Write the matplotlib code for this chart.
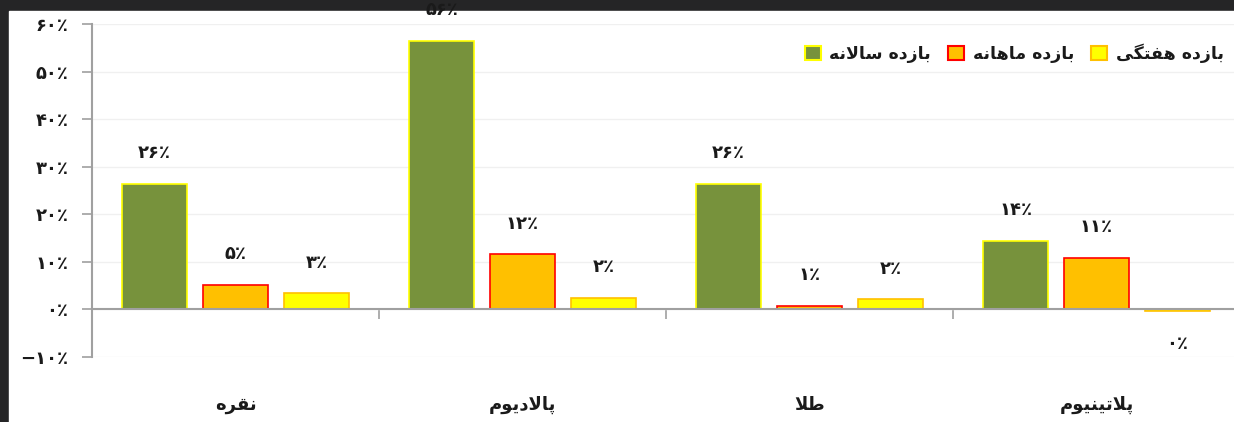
import numpy as np
import matplotlib
matplotlib.use('Agg')
import matplotlib.pyplot as plt
from matplotlib.patches import Patch

plt.rcParams['font.family'] = ['DejaVu Sans']

# data
categories = ['نقره', 'پالادیوم', 'طلا', 'پلاتینیوم']
series_names = ['بازده سالانه', 'بازده ماهانه', 'بازده هفتگی']
yearly = [26.4, 56.5, 26.4, 14.4]
monthly = [5.2, 11.6, 0.8, 10.8]
weekly = [3.4, 2.5, 2.1, -0.3]
yearly_lbl = [26, 56, 26, 14]
monthly_lbl = [5, 12, 1, 11]
weekly_lbl = [3, 2, 2, 0]
y_ticks = [-10, 0, 10, 20, 30, 40, 50, 60]

fills = ['#77923C', '#FFC000', '#FFFF00']
edges = ['#FFFF00', '#FF0000', '#FFC000']

# --- minimal Persian shaping (matplotlib has no bidi / joining) ---
FORMS = {
    'ا': ('\uFE8D', '\uFE8E', None, None),
    'ب': ('\uFE8F', '\uFE90', '\uFE91', '\uFE92'),
    'پ': ('\uFB56', '\uFB57', '\uFB58', '\uFB59'),
    'ت': ('\uFE95', '\uFE96', '\uFE97', '\uFE98'),
    'د': ('\uFEA9', '\uFEAA', None, None),
    'ر': ('\uFEAD', '\uFEAE', None, None),
    'ز': ('\uFEAF', '\uFEB0', None, None),
    'س': ('\uFEB1', '\uFEB2', '\uFEB3', '\uFEB4'),
    'ط': ('\uFEC1', '\uFEC2', '\uFEC3', '\uFEC4'),
    'ف': ('\uFED1', '\uFED2', '\uFED3', '\uFED4'),
    'ق': ('\uFED5', '\uFED6', '\uFED7', '\uFED8'),
    'گ': ('\uFB92', '\uFB93', '\uFB94', '\uFB95'),
    'ل': ('\uFEDD', '\uFEDE', '\uFEDF', '\uFEE0'),
    'م': ('\uFEE1', '\uFEE2', '\uFEE3', '\uFEE4'),
    'ن': ('\uFEE5', '\uFEE6', '\uFEE7', '\uFEE8'),
    'ه': ('\uFEE9', '\uFEEA', '\uFEEB', '\uFEEC'),
    'و': ('\uFEED', '\uFEEE', None, None),
    'ی': ('\uFBFC', '\uFBFD', '\uFBFE', '\uFBFF'),
}


def dual(c):
    return c in FORMS and FORMS[c][2] is not None


def shape(s):
    out = []
    i = 0
    while i < len(s):
        c = s[i]
        if c not in FORMS:
            out.append(c)
            i += 1
            continue
        prev_join = i > 0 and dual(s[i - 1])
        if c == 'ل' and i + 1 < len(s) and s[i + 1] == 'ا':
            out.append('\uFEFC' if prev_join else '\uFEFB')
            i += 2
            continue
        next_join = dual(c) and i + 1 < len(s) and s[i + 1] in FORMS
        iso, fin, ini, med = FORMS[c]
        if prev_join and next_join:
            out.append(med)
        elif prev_join:
            out.append(fin)
        elif next_join:
            out.append(ini)
        else:
            out.append(iso)
        i += 1
    return ''.join(reversed(out))


def fa_num(v):
    s = str(abs(int(v))).translate(str.maketrans('0123456789', '۰۱۲۳۴۵۶۷۸۹'))
    return ('−' if v < 0 else '') + s + '٪'


fig = plt.figure(figsize=(12.34, 4.22), dpi=100)
fig.patch.set_facecolor('#252526')
fig.add_artist(plt.Rectangle((9 / 1234, 0), 1, 1 - 11 / 422,
                             transform=fig.transFigure, color='white', zorder=0))
ax = fig.add_axes([92 / 1234, 1 - 357 / 422, 1148 / 1234, 333 / 422])
ax.set_facecolor('none')

x = np.arange(len(categories))
w = 0.227
step = 0.282
vals = [yearly, monthly, weekly]
lbls = [yearly_lbl, monthly_lbl, weekly_lbl]
for k in range(3):
    xs = x + (k - 1) * step
    ax.bar(xs, vals[k], w, color=fills[k], edgecolor=edges[k], linewidth=1.2, zorder=3)
    for xi, v, t in zip(xs, vals[k], lbls[k]):
        off = 22 if v >= 0 else -24
        ax.annotate(fa_num(t), (xi, v), xytext=(0, off), textcoords='offset points',
                    ha='center', va='center', fontsize=13, fontweight='bold',
                    color='#1a1a1a')

ax.set_xlim(-0.5, len(categories) - 0.5)
ax.set_ylim(-10, 60)
ax.set_yticks(y_ticks)
ax.set_yticklabels([fa_num(v) for v in y_ticks], fontsize=13, fontweight='bold',
                   color='#1a1a1a')
ax.yaxis.grid(True, color='#F0F0F0', linewidth=1.0, zorder=0)
ax.tick_params(axis='y', length=7, width=1.2, color='#A0A0A0', pad=10)

ax.spines['top'].set_visible(False)
ax.spines['right'].set_visible(False)
ax.spines['left'].set_color('#A0A0A0')
ax.spines['left'].set_linewidth(1.5)
ax.spines['bottom'].set_position(('data', 0))
ax.spines['bottom'].set_color('#A0A0A0')
ax.spines['bottom'].set_linewidth(1.5)
ax.spines['bottom'].set_zorder(4)

ax.set_xticks(x)
ax.set_xticklabels([shape(c) for c in categories], fontsize=13, fontweight='bold',
                   color='#1a1a1a')
ax.set_xticks(x[:-1] + 0.5, minor=True)
ax.tick_params(axis='x', which='major', length=0, pad=62)
ax.tick_params(axis='x', which='minor', length=7, width=1.2, color='#A0A0A0')

handles = [Patch(facecolor=fills[k], edgecolor=edges[k], linewidth=1.5) for k in range(3)]
leg = ax.legend(handles, [shape(n) for n in series_names], ncol=3, frameon=False,
                loc='center left', bbox_to_anchor=(798 / 1234, 1 - 53 / 422),
                bbox_transform=fig.transFigure, handlelength=0.9,
                handleheight=0.9, handletextpad=0.5, columnspacing=1.0, borderaxespad=0,
                prop={'size': 12.5, 'weight': 'bold'})
for t in leg.get_texts():
    t.set_color('#1a1a1a')

fig.savefig('out.png', dpi=100, facecolor=fig.get_facecolor())
